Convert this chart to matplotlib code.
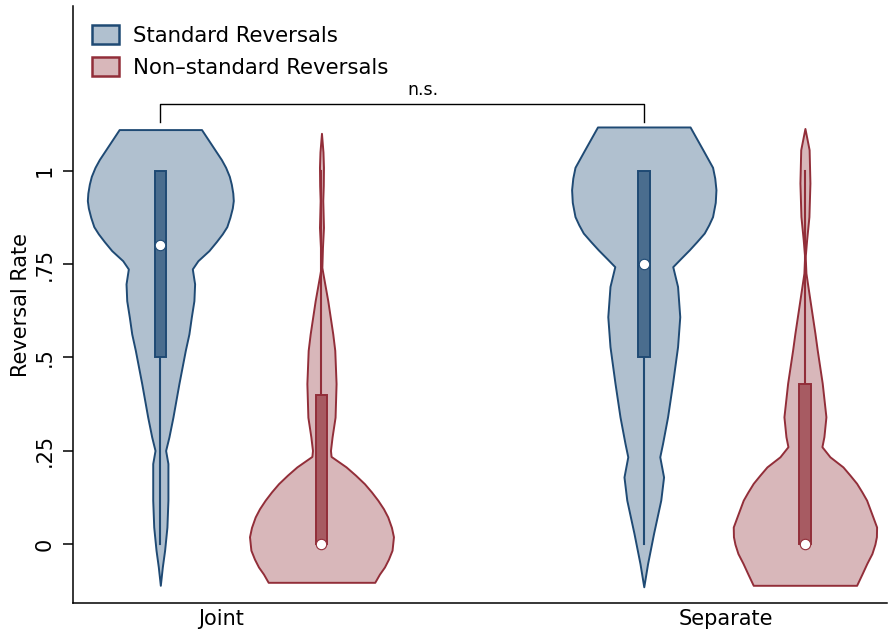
import numpy as np
import matplotlib
matplotlib.use('Agg')
from matplotlib import pyplot as plt
from matplotlib.patches import Patch

# violin outlines: y levels and half widths
js_y = [1.110, 1.053, 1.030, 1.009, 0.985, 0.964, 0.940, 0.920, 0.900, 0.875, 0.850, 0.831,
        0.810, 0.786, 0.759, 0.737, 0.697, 0.652, 0.608, 0.563, 0.519, 0.430, 0.340, 0.287,
        0.251, 0.216, 0.118, 0.046, -0.016, -0.061, -0.110]
js_w = [41.2, 55.3, 61.0, 65.3, 69.0, 71.0, 72.5, 73.0, 72.0, 69.6, 66.5, 62.0,
        56.0, 48.6, 37.6, 32.0, 34.3, 33.6, 31.0, 28.6, 25.0, 18.6, 12.6, 8.6,
        5.3, 7.6, 7.6, 6.6, 4.3, 2.0, 0.0]

jn_y = [1.100, 1.050, 1.009, 0.960, 0.920, 0.848, 0.795, 0.741, 0.724, 0.652, 0.563, 0.519,
        0.430, 0.340, 0.287, 0.251, 0.235, 0.207, 0.185, 0.162, 0.140, 0.118, 0.095, 0.073,
        0.045, 0.020, -0.016, -0.040, -0.061, -0.080, -0.102]
jn_w = [0.0, 1.5, 2.0, 1.8, 1.3, 2.0, 1.0, 0.4, 1.5, 6.3, 11.3, 13.3,
        14.6, 13.6, 10.6, 9.0, 9.6, 24.6, 34.0, 43.0, 50.0, 56.3, 62.0, 66.3,
        70.0, 72.0, 70.6, 67.0, 63.0, 58.0, 53.3]

ss_y = [1.117, 1.053, 1.009, 0.980, 0.949, 0.915, 0.877, 0.855, 0.833, 0.810, 0.788, 0.765,
        0.743, 0.690, 0.609, 0.529, 0.431, 0.341, 0.270, 0.234, 0.180, 0.118, 0.029,
        -0.052, -0.114]
ss_w = [46.3, 59.7, 68.8, 71.0, 72.2, 71.5, 68.8, 65.0, 60.5, 53.0, 45.5, 37.0,
        29.0, 33.8, 36.0, 33.8, 28.8, 23.8, 18.8, 16.0, 19.8, 17.0, 9.8,
        3.8, 0.0]

sn_y = [1.113, 1.056, 0.967, 0.877, 0.815, 0.770, 0.726, 0.654, 0.565, 0.520, 0.431, 0.341,
        0.288, 0.261, 0.234, 0.207, 0.185, 0.163, 0.140, 0.118, 0.080, 0.046, 0.020, 0.000,
        -0.025, -0.051, -0.080, -0.110]
sn_w = [0.0, 4.2, 5.0, 4.0, 1.7, 0.3, 1.0, 5.0, 10.0, 12.3, 17.3, 21.0,
        19.0, 17.0, 25.0, 38.0, 45.0, 51.7, 57.0, 61.7, 67.0, 71.7, 71.5, 70.0,
        67.0, 62.0, 57.0, 51.7]

# box stats: q1, median, q3, lower whisker, upper whisker
js_box = [0.5, 0.8, 1.0, 0.0, 1.0]
jn_box = [0.0, 0.0, 0.4, 0.0, 1.0]
ss_box = [0.5, 0.75, 1.0, 0.0, 1.0]
sn_box = [0.0, 0.0, 0.43, 0.0, 1.0]

groups = ['Joint', 'Separate']
series = ['Standard Reversals', 'Non\u2013standard Reversals']

blue = '#1f4a74'
red = '#922e39'
blue_fill = '#b0c0cf'
red_fill = '#d8b7ba'
blue_box = '#4a6d8e'
red_box = '#a75b62'

scale = 1 / 161.2  # half width units -> x units
bw = 0.072

fig = plt.figure(figsize=(8.88, 6.31), dpi=100)
ax = fig.add_axes([0.082, 0.044, 0.917, 0.946])

def violin(pos, y, w, box, edge, fill, boxc):
    y = np.array(y)
    w = np.array(w) * scale
    ax.fill_betweenx(y, pos - w, pos + w, facecolor=fill, edgecolor=edge, linewidth=1.4,
                     joinstyle='round', zorder=2)
    q1, med, q3, lo, hi = box
    if lo < q1:
        ax.plot([pos, pos], [lo, q1], color=edge, lw=1.5, zorder=3)
    if hi > q3:
        ax.plot([pos, pos], [q3, hi], color=edge, lw=1.5, zorder=3)
    ax.bar(pos, q3 - q1, bottom=q1, width=bw, color=boxc, edgecolor=edge, linewidth=1.4, zorder=4)
    ax.plot(pos, med, 'o', ms=7.5, mfc='white', mec=edge, mew=0.8, zorder=5)

violin(1, js_y, js_w, js_box, blue, blue_fill, blue_box)
violin(2, jn_y, jn_w, jn_box, red, red_fill, red_box)
violin(4, ss_y, ss_w, ss_box, blue, blue_fill, blue_box)
violin(5, sn_y, sn_w, sn_box, red, red_fill, red_box)

# significance bracket
ax.plot([1, 1, 4, 4], [1.131, 1.178, 1.178, 1.131], color='black', lw=1.0, zorder=3)
ax.text(2.63, 1.192, 'n.s.', ha='center', va='bottom', fontsize=12.5)

ax.set_xlim(0.457, 5.51)
ax.set_ylim(-0.158, 1.44)
ax.set_yticks([0, 0.25, 0.5, 0.75, 1])
ax.set_yticklabels(['0', '.25', '.5', '.75', '1'], rotation=90, va='center', fontsize=15)
ax.set_xticks([1.38, 4.51])
ax.set_xticklabels(groups, fontsize=15)
ax.tick_params(axis='x', length=0, pad=4)
ax.tick_params(axis='y', length=7, width=1.1, pad=6)
ax.set_ylabel('Reversal Rate', fontsize=15, labelpad=3)
for s in ['top', 'right']:
    ax.spines[s].set_visible(False)
for s in ['left', 'bottom']:
    ax.spines[s].set_linewidth(1.1)

handles = [Patch(facecolor=blue_fill, edgecolor=blue, linewidth=1.8),
           Patch(facecolor=red_fill, edgecolor=red, linewidth=1.8)]
ax.legend(handles, series, loc='upper left', bbox_to_anchor=(0.0, 1.0), frameon=False,
          fontsize=15.3, handlelength=1.25, handleheight=1.0, handletextpad=0.7, labelspacing=0.5)

fig.savefig('out.png', dpi=100)
